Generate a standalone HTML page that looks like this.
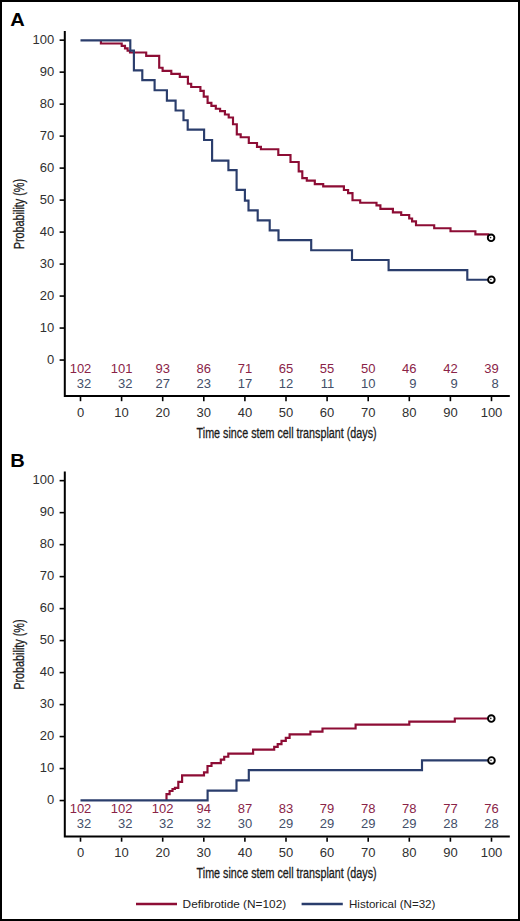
<!DOCTYPE html>
<html><head><meta charset="utf-8"><style>
html,body{margin:0;padding:0;background:#fff;}
body{width:520px;height:921px;overflow:hidden;}
svg{display:block;font-family:"Liberation Sans", sans-serif;}
</style></head><body>
<svg width="520" height="921" viewBox="0 0 520 921">
<rect x="1" y="1" width="518" height="919" fill="#fff" stroke="#000" stroke-width="2"/>
<text transform="translate(10.3 26.30) scale(1.07 1)" font-size="18.8" font-weight="bold" fill="#000">A</text>
<path d="M64.8 31.00 V397.10 M63.8 396.10 H509.8" stroke="#000" stroke-width="2" fill="none"/>
<path d="M59.6 360.05 H64" stroke="#000" stroke-width="1.6"/>
<text transform="translate(54.30 363.55) scale(1.0 1)" text-anchor="end" font-size="13" letter-spacing="0.0" fill="#303030">0</text>
<path d="M59.6 328.06 H64" stroke="#000" stroke-width="1.6"/>
<text transform="translate(54.30 331.56) scale(1.0 1)" text-anchor="end" font-size="13" letter-spacing="0.0" fill="#303030">10</text>
<path d="M59.6 296.07 H64" stroke="#000" stroke-width="1.6"/>
<text transform="translate(54.30 299.57) scale(1.0 1)" text-anchor="end" font-size="13" letter-spacing="0.0" fill="#303030">20</text>
<path d="M59.6 264.08 H64" stroke="#000" stroke-width="1.6"/>
<text transform="translate(54.30 267.58) scale(1.0 1)" text-anchor="end" font-size="13" letter-spacing="0.0" fill="#303030">30</text>
<path d="M59.6 232.09 H64" stroke="#000" stroke-width="1.6"/>
<text transform="translate(54.30 235.59) scale(1.0 1)" text-anchor="end" font-size="13" letter-spacing="0.0" fill="#303030">40</text>
<path d="M59.6 200.10 H64" stroke="#000" stroke-width="1.6"/>
<text transform="translate(54.30 203.60) scale(1.0 1)" text-anchor="end" font-size="13" letter-spacing="0.0" fill="#303030">50</text>
<path d="M59.6 168.11 H64" stroke="#000" stroke-width="1.6"/>
<text transform="translate(54.30 171.61) scale(1.0 1)" text-anchor="end" font-size="13" letter-spacing="0.0" fill="#303030">60</text>
<path d="M59.6 136.12 H64" stroke="#000" stroke-width="1.6"/>
<text transform="translate(54.30 139.62) scale(1.0 1)" text-anchor="end" font-size="13" letter-spacing="0.0" fill="#303030">70</text>
<path d="M59.6 104.13 H64" stroke="#000" stroke-width="1.6"/>
<text transform="translate(54.30 107.63) scale(1.0 1)" text-anchor="end" font-size="13" letter-spacing="0.0" fill="#303030">80</text>
<path d="M59.6 72.14 H64" stroke="#000" stroke-width="1.6"/>
<text transform="translate(54.30 75.64) scale(1.0 1)" text-anchor="end" font-size="13" letter-spacing="0.0" fill="#303030">90</text>
<path d="M59.6 40.15 H64" stroke="#000" stroke-width="1.6"/>
<text transform="translate(54.30 43.65) scale(1.0 1)" text-anchor="end" font-size="13" letter-spacing="0.0" fill="#303030">100</text>
<path d="M80.50 397.00 V401.20" stroke="#000" stroke-width="1.6"/>
<text transform="translate(80.50 416.70) scale(1.0 1)" text-anchor="middle" font-size="13" letter-spacing="0.0" fill="#303030">0</text>
<path d="M121.60 397.00 V401.20" stroke="#000" stroke-width="1.6"/>
<text transform="translate(121.60 416.70) scale(1.0 1)" text-anchor="middle" font-size="13" letter-spacing="0.0" fill="#303030">10</text>
<path d="M162.70 397.00 V401.20" stroke="#000" stroke-width="1.6"/>
<text transform="translate(162.70 416.70) scale(1.0 1)" text-anchor="middle" font-size="13" letter-spacing="0.0" fill="#303030">20</text>
<path d="M203.80 397.00 V401.20" stroke="#000" stroke-width="1.6"/>
<text transform="translate(203.80 416.70) scale(1.0 1)" text-anchor="middle" font-size="13" letter-spacing="0.0" fill="#303030">30</text>
<path d="M244.90 397.00 V401.20" stroke="#000" stroke-width="1.6"/>
<text transform="translate(244.90 416.70) scale(1.0 1)" text-anchor="middle" font-size="13" letter-spacing="0.0" fill="#303030">40</text>
<path d="M286.00 397.00 V401.20" stroke="#000" stroke-width="1.6"/>
<text transform="translate(286.00 416.70) scale(1.0 1)" text-anchor="middle" font-size="13" letter-spacing="0.0" fill="#303030">50</text>
<path d="M327.10 397.00 V401.20" stroke="#000" stroke-width="1.6"/>
<text transform="translate(327.10 416.70) scale(1.0 1)" text-anchor="middle" font-size="13" letter-spacing="0.0" fill="#303030">60</text>
<path d="M368.20 397.00 V401.20" stroke="#000" stroke-width="1.6"/>
<text transform="translate(368.20 416.70) scale(1.0 1)" text-anchor="middle" font-size="13" letter-spacing="0.0" fill="#303030">70</text>
<path d="M409.30 397.00 V401.20" stroke="#000" stroke-width="1.6"/>
<text transform="translate(409.30 416.70) scale(1.0 1)" text-anchor="middle" font-size="13" letter-spacing="0.0" fill="#303030">80</text>
<path d="M450.40 397.00 V401.20" stroke="#000" stroke-width="1.6"/>
<text transform="translate(450.40 416.70) scale(1.0 1)" text-anchor="middle" font-size="13" letter-spacing="0.0" fill="#303030">90</text>
<path d="M491.50 397.00 V401.20" stroke="#000" stroke-width="1.6"/>
<text transform="translate(491.50 416.70) scale(1.0 1)" text-anchor="middle" font-size="13" letter-spacing="0.0" fill="#303030">100</text>
<text transform="translate(80.50 372.70) scale(1.0 1)" text-anchor="middle" font-size="13" letter-spacing="0.0" fill="#8a2347">102</text>
<text transform="translate(91.34 387.60) scale(1.0 1)" text-anchor="end" font-size="13" letter-spacing="0.0" fill="#434e68">32</text>
<text transform="translate(121.60 372.70) scale(1.0 1)" text-anchor="middle" font-size="13" letter-spacing="0.0" fill="#8a2347">101</text>
<text transform="translate(132.44 387.60) scale(1.0 1)" text-anchor="end" font-size="13" letter-spacing="0.0" fill="#434e68">32</text>
<text transform="translate(162.70 372.70) scale(1.0 1)" text-anchor="middle" font-size="13" letter-spacing="0.0" fill="#8a2347">93</text>
<text transform="translate(169.93 387.60) scale(1.0 1)" text-anchor="end" font-size="13" letter-spacing="0.0" fill="#434e68">27</text>
<text transform="translate(203.80 372.70) scale(1.0 1)" text-anchor="middle" font-size="13" letter-spacing="0.0" fill="#8a2347">86</text>
<text transform="translate(211.03 387.60) scale(1.0 1)" text-anchor="end" font-size="13" letter-spacing="0.0" fill="#434e68">23</text>
<text transform="translate(244.90 372.70) scale(1.0 1)" text-anchor="middle" font-size="13" letter-spacing="0.0" fill="#8a2347">71</text>
<text transform="translate(252.13 387.60) scale(1.0 1)" text-anchor="end" font-size="13" letter-spacing="0.0" fill="#434e68">17</text>
<text transform="translate(286.00 372.70) scale(1.0 1)" text-anchor="middle" font-size="13" letter-spacing="0.0" fill="#8a2347">65</text>
<text transform="translate(293.23 387.60) scale(1.0 1)" text-anchor="end" font-size="13" letter-spacing="0.0" fill="#434e68">12</text>
<text transform="translate(327.10 372.70) scale(1.0 1)" text-anchor="middle" font-size="13" letter-spacing="0.0" fill="#8a2347">55</text>
<text transform="translate(334.33 387.60) scale(1.0 1)" text-anchor="end" font-size="13" letter-spacing="0.0" fill="#434e68">11</text>
<text transform="translate(368.20 372.70) scale(1.0 1)" text-anchor="middle" font-size="13" letter-spacing="0.0" fill="#8a2347">50</text>
<text transform="translate(375.43 387.60) scale(1.0 1)" text-anchor="end" font-size="13" letter-spacing="0.0" fill="#434e68">10</text>
<text transform="translate(409.30 372.70) scale(1.0 1)" text-anchor="middle" font-size="13" letter-spacing="0.0" fill="#8a2347">46</text>
<text transform="translate(416.53 387.60) scale(1.0 1)" text-anchor="end" font-size="13" letter-spacing="0.0" fill="#434e68">9</text>
<text transform="translate(450.40 372.70) scale(1.0 1)" text-anchor="middle" font-size="13" letter-spacing="0.0" fill="#8a2347">42</text>
<text transform="translate(457.63 387.60) scale(1.0 1)" text-anchor="end" font-size="13" letter-spacing="0.0" fill="#434e68">9</text>
<text transform="translate(491.50 372.70) scale(1.0 1)" text-anchor="middle" font-size="13" letter-spacing="0.0" fill="#8a2347">39</text>
<text transform="translate(498.73 387.60) scale(1.0 1)" text-anchor="end" font-size="13" letter-spacing="0.0" fill="#434e68">8</text>
<text x="196.6" y="437.90" font-size="15.4" textLength="180" lengthAdjust="spacingAndGlyphs" fill="#1a1a1a" stroke="#1a1a1a" stroke-width="0.3">Time since stem cell transplant (days)</text>
<text transform="translate(23.5 214.10) rotate(-90)" x="0" y="0" text-anchor="middle" font-size="15" textLength="70.4" lengthAdjust="spacingAndGlyphs" fill="#1a1a1a" stroke="#1a1a1a" stroke-width="0.3">Probability (%)</text>
<path d="M100.90 40.30 L100.90 40.30 L100.90 43.50 L121.70 43.50 L121.70 45.80 L125.00 45.80 L125.00 48.30 L127.60 48.30 L127.60 50.70 L130.00 50.70 L130.00 52.50 L146.20 52.50 L146.20 55.80 L159.20 55.80 L159.20 67.70 L162.60 67.70 L162.60 70.80 L171.30 70.80 L171.30 73.80 L179.80 73.80 L179.80 76.80 L187.90 76.80 L187.90 83.70 L191.20 83.70 L191.20 87.00 L200.40 87.00 L200.40 90.90 L203.75 90.90 L203.75 96.60 L207.60 96.60 L207.60 102.90 L211.40 102.90 L211.40 105.80 L215.80 105.80 L215.80 108.70 L220.10 108.70 L220.10 111.10 L224.90 111.10 L224.90 114.50 L228.70 114.50 L228.70 117.50 L233.00 117.50 L233.00 124.20 L236.80 124.20 L236.80 134.30 L240.70 134.30 L240.70 137.20 L248.80 137.20 L248.80 143.00 L257.00 143.00 L257.00 146.80 L260.90 146.80 L260.90 149.20 L278.30 149.20 L278.30 155.00 L290.50 155.00 L290.50 162.00 L298.70 162.00 L298.70 171.40 L302.30 171.40 L302.30 178.10 L306.80 178.10 L306.80 180.60 L314.80 180.60 L314.80 184.10 L323.20 184.10 L323.20 186.30 L343.90 186.30 L343.90 190.00 L348.10 190.00 L348.10 193.10 L352.50 193.10 L352.50 200.20 L360.20 200.20 L360.20 202.70 L376.50 202.70 L376.50 205.40 L380.40 205.40 L380.40 208.80 L392.90 208.80 L392.90 212.30 L401.20 212.30 L401.20 215.00 L409.20 215.00 L409.20 218.50 L412.10 218.50 L412.10 221.30 L416.00 221.30 L416.00 225.20 L434.20 225.20 L434.20 228.20 L450.50 228.20 L450.50 231.20 L475.40 231.20 L475.40 234.30 L488.30 234.30 L488.30 237.80 L491.10 237.80" stroke="#8d0d35" stroke-width="2.15" fill="none" stroke-linejoin="miter" stroke-linecap="butt"/>
<path d="M80.50 40.30 L130.30 40.30 L130.30 50.65 L133.90 50.65 L133.90 70.35 L142.30 70.35 L142.30 80.15 L154.60 80.15 L154.60 90.25 L166.90 90.25 L166.90 100.55 L175.60 100.55 L175.60 110.45 L183.50 110.45 L183.50 120.25 L187.70 120.25 L187.70 129.65 L204.10 129.65 L204.10 139.95 L212.10 139.95 L212.10 160.65 L228.40 160.65 L228.40 170.15 L236.60 170.15 L236.60 189.85 L244.90 189.85 L244.90 200.65 L248.50 200.65 L248.50 210.35 L257.70 210.35 L257.70 220.35 L269.70 220.35 L269.70 230.35 L278.50 230.35 L278.50 240.05 L311.20 240.05 L311.20 250.25 L352.00 250.25 L352.00 259.95 L388.60 259.95 L388.60 270.15 L467.30 270.15 L467.30 279.75 L491.30 279.75" stroke="#2a3d6c" stroke-width="2.15" fill="none" stroke-linejoin="miter" stroke-linecap="butt"/>
<circle cx="491.1" cy="237.8" r="3.3" stroke="#000" stroke-width="1.9" fill="#fff"/>
<circle cx="490.6" cy="237.60000000000002" r="0.8" fill="#222"/>
<circle cx="491.4" cy="279.75" r="3.3" stroke="#000" stroke-width="1.9" fill="#fff"/>
<circle cx="490.9" cy="279.55" r="0.8" fill="#222"/>
<text transform="translate(10.3 466.80) scale(1.07 1)" font-size="18.8" font-weight="bold" fill="#000">B</text>
<path d="M64.8 471.50 V837.60 M63.8 836.60 H509.8" stroke="#000" stroke-width="2" fill="none"/>
<path d="M59.6 800.55 H64" stroke="#000" stroke-width="1.6"/>
<text transform="translate(54.30 804.05) scale(1.0 1)" text-anchor="end" font-size="13" letter-spacing="0.0" fill="#303030">0</text>
<path d="M59.6 768.56 H64" stroke="#000" stroke-width="1.6"/>
<text transform="translate(54.30 772.06) scale(1.0 1)" text-anchor="end" font-size="13" letter-spacing="0.0" fill="#303030">10</text>
<path d="M59.6 736.57 H64" stroke="#000" stroke-width="1.6"/>
<text transform="translate(54.30 740.07) scale(1.0 1)" text-anchor="end" font-size="13" letter-spacing="0.0" fill="#303030">20</text>
<path d="M59.6 704.58 H64" stroke="#000" stroke-width="1.6"/>
<text transform="translate(54.30 708.08) scale(1.0 1)" text-anchor="end" font-size="13" letter-spacing="0.0" fill="#303030">30</text>
<path d="M59.6 672.59 H64" stroke="#000" stroke-width="1.6"/>
<text transform="translate(54.30 676.09) scale(1.0 1)" text-anchor="end" font-size="13" letter-spacing="0.0" fill="#303030">40</text>
<path d="M59.6 640.60 H64" stroke="#000" stroke-width="1.6"/>
<text transform="translate(54.30 644.10) scale(1.0 1)" text-anchor="end" font-size="13" letter-spacing="0.0" fill="#303030">50</text>
<path d="M59.6 608.61 H64" stroke="#000" stroke-width="1.6"/>
<text transform="translate(54.30 612.11) scale(1.0 1)" text-anchor="end" font-size="13" letter-spacing="0.0" fill="#303030">60</text>
<path d="M59.6 576.62 H64" stroke="#000" stroke-width="1.6"/>
<text transform="translate(54.30 580.12) scale(1.0 1)" text-anchor="end" font-size="13" letter-spacing="0.0" fill="#303030">70</text>
<path d="M59.6 544.63 H64" stroke="#000" stroke-width="1.6"/>
<text transform="translate(54.30 548.13) scale(1.0 1)" text-anchor="end" font-size="13" letter-spacing="0.0" fill="#303030">80</text>
<path d="M59.6 512.64 H64" stroke="#000" stroke-width="1.6"/>
<text transform="translate(54.30 516.14) scale(1.0 1)" text-anchor="end" font-size="13" letter-spacing="0.0" fill="#303030">90</text>
<path d="M59.6 480.65 H64" stroke="#000" stroke-width="1.6"/>
<text transform="translate(54.30 484.15) scale(1.0 1)" text-anchor="end" font-size="13" letter-spacing="0.0" fill="#303030">100</text>
<path d="M80.50 837.50 V841.70" stroke="#000" stroke-width="1.6"/>
<text transform="translate(80.50 857.20) scale(1.0 1)" text-anchor="middle" font-size="13" letter-spacing="0.0" fill="#303030">0</text>
<path d="M121.60 837.50 V841.70" stroke="#000" stroke-width="1.6"/>
<text transform="translate(121.60 857.20) scale(1.0 1)" text-anchor="middle" font-size="13" letter-spacing="0.0" fill="#303030">10</text>
<path d="M162.70 837.50 V841.70" stroke="#000" stroke-width="1.6"/>
<text transform="translate(162.70 857.20) scale(1.0 1)" text-anchor="middle" font-size="13" letter-spacing="0.0" fill="#303030">20</text>
<path d="M203.80 837.50 V841.70" stroke="#000" stroke-width="1.6"/>
<text transform="translate(203.80 857.20) scale(1.0 1)" text-anchor="middle" font-size="13" letter-spacing="0.0" fill="#303030">30</text>
<path d="M244.90 837.50 V841.70" stroke="#000" stroke-width="1.6"/>
<text transform="translate(244.90 857.20) scale(1.0 1)" text-anchor="middle" font-size="13" letter-spacing="0.0" fill="#303030">40</text>
<path d="M286.00 837.50 V841.70" stroke="#000" stroke-width="1.6"/>
<text transform="translate(286.00 857.20) scale(1.0 1)" text-anchor="middle" font-size="13" letter-spacing="0.0" fill="#303030">50</text>
<path d="M327.10 837.50 V841.70" stroke="#000" stroke-width="1.6"/>
<text transform="translate(327.10 857.20) scale(1.0 1)" text-anchor="middle" font-size="13" letter-spacing="0.0" fill="#303030">60</text>
<path d="M368.20 837.50 V841.70" stroke="#000" stroke-width="1.6"/>
<text transform="translate(368.20 857.20) scale(1.0 1)" text-anchor="middle" font-size="13" letter-spacing="0.0" fill="#303030">70</text>
<path d="M409.30 837.50 V841.70" stroke="#000" stroke-width="1.6"/>
<text transform="translate(409.30 857.20) scale(1.0 1)" text-anchor="middle" font-size="13" letter-spacing="0.0" fill="#303030">80</text>
<path d="M450.40 837.50 V841.70" stroke="#000" stroke-width="1.6"/>
<text transform="translate(450.40 857.20) scale(1.0 1)" text-anchor="middle" font-size="13" letter-spacing="0.0" fill="#303030">90</text>
<path d="M491.50 837.50 V841.70" stroke="#000" stroke-width="1.6"/>
<text transform="translate(491.50 857.20) scale(1.0 1)" text-anchor="middle" font-size="13" letter-spacing="0.0" fill="#303030">100</text>
<text transform="translate(80.50 813.20) scale(1.0 1)" text-anchor="middle" font-size="13" letter-spacing="0.0" fill="#8a2347">102</text>
<text transform="translate(91.34 828.10) scale(1.0 1)" text-anchor="end" font-size="13" letter-spacing="0.0" fill="#434e68">32</text>
<text transform="translate(121.60 813.20) scale(1.0 1)" text-anchor="middle" font-size="13" letter-spacing="0.0" fill="#8a2347">102</text>
<text transform="translate(132.44 828.10) scale(1.0 1)" text-anchor="end" font-size="13" letter-spacing="0.0" fill="#434e68">32</text>
<text transform="translate(162.70 813.20) scale(1.0 1)" text-anchor="middle" font-size="13" letter-spacing="0.0" fill="#8a2347">102</text>
<text transform="translate(173.54 828.10) scale(1.0 1)" text-anchor="end" font-size="13" letter-spacing="0.0" fill="#434e68">32</text>
<text transform="translate(203.80 813.20) scale(1.0 1)" text-anchor="middle" font-size="13" letter-spacing="0.0" fill="#8a2347">94</text>
<text transform="translate(211.03 828.10) scale(1.0 1)" text-anchor="end" font-size="13" letter-spacing="0.0" fill="#434e68">32</text>
<text transform="translate(244.90 813.20) scale(1.0 1)" text-anchor="middle" font-size="13" letter-spacing="0.0" fill="#8a2347">87</text>
<text transform="translate(252.13 828.10) scale(1.0 1)" text-anchor="end" font-size="13" letter-spacing="0.0" fill="#434e68">30</text>
<text transform="translate(286.00 813.20) scale(1.0 1)" text-anchor="middle" font-size="13" letter-spacing="0.0" fill="#8a2347">83</text>
<text transform="translate(293.23 828.10) scale(1.0 1)" text-anchor="end" font-size="13" letter-spacing="0.0" fill="#434e68">29</text>
<text transform="translate(327.10 813.20) scale(1.0 1)" text-anchor="middle" font-size="13" letter-spacing="0.0" fill="#8a2347">79</text>
<text transform="translate(334.33 828.10) scale(1.0 1)" text-anchor="end" font-size="13" letter-spacing="0.0" fill="#434e68">29</text>
<text transform="translate(368.20 813.20) scale(1.0 1)" text-anchor="middle" font-size="13" letter-spacing="0.0" fill="#8a2347">78</text>
<text transform="translate(375.43 828.10) scale(1.0 1)" text-anchor="end" font-size="13" letter-spacing="0.0" fill="#434e68">29</text>
<text transform="translate(409.30 813.20) scale(1.0 1)" text-anchor="middle" font-size="13" letter-spacing="0.0" fill="#8a2347">78</text>
<text transform="translate(416.53 828.10) scale(1.0 1)" text-anchor="end" font-size="13" letter-spacing="0.0" fill="#434e68">29</text>
<text transform="translate(450.40 813.20) scale(1.0 1)" text-anchor="middle" font-size="13" letter-spacing="0.0" fill="#8a2347">77</text>
<text transform="translate(457.63 828.10) scale(1.0 1)" text-anchor="end" font-size="13" letter-spacing="0.0" fill="#434e68">28</text>
<text transform="translate(491.50 813.20) scale(1.0 1)" text-anchor="middle" font-size="13" letter-spacing="0.0" fill="#8a2347">76</text>
<text transform="translate(498.73 828.10) scale(1.0 1)" text-anchor="end" font-size="13" letter-spacing="0.0" fill="#434e68">28</text>
<text x="196.6" y="878.40" font-size="15.4" textLength="180" lengthAdjust="spacingAndGlyphs" fill="#1a1a1a" stroke="#1a1a1a" stroke-width="0.3">Time since stem cell transplant (days)</text>
<text transform="translate(23.5 654.60) rotate(-90)" x="0" y="0" text-anchor="middle" font-size="15" textLength="70.4" lengthAdjust="spacingAndGlyphs" fill="#1a1a1a" stroke="#1a1a1a" stroke-width="0.3">Probability (%)</text>
<path d="M166.50 800.40 L166.50 800.40 L166.50 794.15 L169.60 794.15 L169.60 791.00 L172.50 791.00 L172.50 789.00 L174.90 789.00 L174.90 787.90 L178.30 787.90 L178.30 781.90 L182.10 781.90 L182.10 775.40 L204.00 775.40 L204.00 772.30 L207.50 772.30 L207.50 766.00 L211.50 766.00 L211.50 763.10 L220.80 763.10 L220.80 759.60 L224.20 759.60 L224.20 756.70 L228.30 756.70 L228.30 753.60 L253.10 753.60 L253.10 749.60 L274.20 749.60 L274.20 746.90 L277.70 746.90 L277.70 744.10 L281.50 744.10 L281.50 740.80 L285.80 740.80 L285.80 737.90 L289.60 737.90 L289.60 734.40 L310.40 734.40 L310.40 731.60 L322.50 731.60 L322.50 728.50 L355.60 728.50 L355.60 724.60 L409.30 724.60 L409.30 721.60 L454.80 721.60 L454.80 718.50 L491.30 718.50" stroke="#8d0d35" stroke-width="2.15" fill="none" stroke-linejoin="miter" stroke-linecap="butt"/>
<path d="M80.50 800.40 L207.60 800.40 L207.60 790.60 L236.50 790.60 L236.50 780.40 L248.80 780.40 L248.80 770.10 L422.00 770.10 L422.00 760.30 L491.50 760.30" stroke="#2a3d6c" stroke-width="2.15" fill="none" stroke-linejoin="miter" stroke-linecap="butt"/>
<circle cx="491.3" cy="718.6" r="3.3" stroke="#000" stroke-width="1.9" fill="#fff"/>
<circle cx="490.8" cy="718.4" r="0.8" fill="#222"/>
<circle cx="491.5" cy="760.4" r="3.3" stroke="#000" stroke-width="1.9" fill="#fff"/>
<circle cx="491.0" cy="760.1999999999999" r="0.8" fill="#222"/>
<path d="M136 904 H177" stroke="#8d0d35" stroke-width="2.3"/>
<text x="182.6" y="907.6" font-size="11.4" textLength="103.6" lengthAdjust="spacingAndGlyphs" fill="#222">Defibrotide (N=102)</text>
<path d="M301.6 904 H342.8" stroke="#2a3d6c" stroke-width="2.3"/>
<text x="349" y="907.6" font-size="11.4" textLength="86.4" lengthAdjust="spacingAndGlyphs" fill="#222">Historical (N=32)</text>
</svg>
</body></html>
